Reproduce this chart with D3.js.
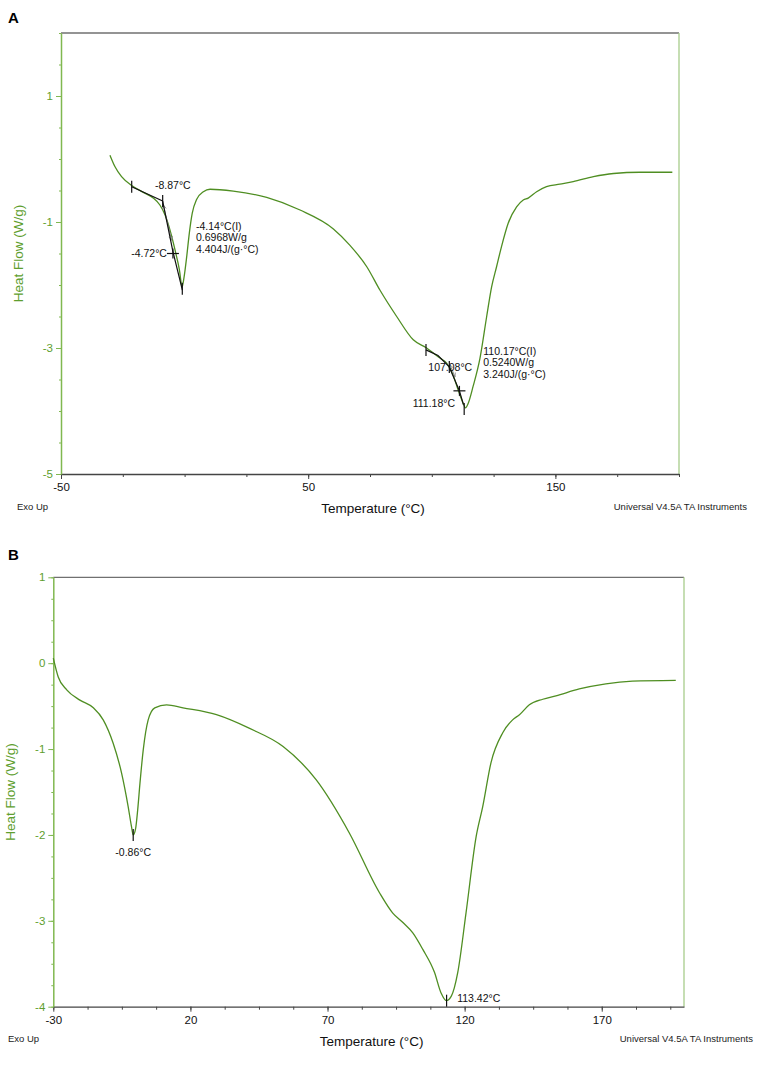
<!DOCTYPE html>
<html>
<head>
<meta charset="utf-8">
<script src="https://cdn.jsdelivr.net/npm/d3@7"></script>
<style>
body { margin: 0; background: #fff; }
svg text { font-family: Arial, "Liberation Sans", sans-serif; }
</style>
</head>
<body>
<svg id="chart" width="765" height="1088"></svg>
<script>
// Panel A - heat flow trace
var tempA = [-30.2, -28.2, -25.5, -21.4, -16.7, -12.7, -10, -7.9, -5.9, -3.9, -2.1, -1.0, -0.2, 0.85, 1.9, 3.1, 4.9, 7.6, 10.3,
    19.7, 33.2, 46.7, 60.2, 66.9, 73.7, 79.0, 85.8, 92.5, 97.9, 103.3, 106.0, 108.5, 110.7, 112.7, 113.6, 114.7, 116.7,
    119.5, 122.2, 124.2, 126.2, 128.2, 130.9, 134.3, 137.0, 139.0, 142.4, 146.4, 151.8, 157.2, 165.4, 173.5, 184.2, 197.3];
var flowA = [0.06, -0.12, -0.28, -0.42, -0.53, -0.62, -0.73, -0.89, -1.13, -1.44, -1.76, -2.03, -1.87, -1.55, -1.18, -0.86, -0.64, -0.52, -0.48,
    -0.51, -0.61, -0.81, -1.11, -1.37, -1.71, -2.08, -2.50, -2.87, -3.0, -3.16, -3.24, -3.42, -3.67, -3.88, -3.95, -3.88, -3.61,
    -3.16, -2.50, -2.03, -1.71, -1.39, -1.02, -0.76, -0.65, -0.62, -0.52, -0.44, -0.40, -0.36, -0.28, -0.23, -0.21, -0.21];
var xTicksA = [-50, 50, 150];
var yTicksA = [1, -1, -3, -5];

// analysis marks on panel A (onset / end tangents, inflection crosses)
var tangentsA = [
    [[-21.4, -0.44], [-8.87, -0.667]],
    [[-8.87, -0.667], [-4.72, -1.47], [-0.9, -2.08]],
    [[97.65, -3.03], [102.5, -3.12], [107.08, -3.30]],
    [[107.08, -3.30], [111.18, -3.68], [112.8, -3.90]]
];
var arrowsA = [[[-8.62, -0.73], [-5.22, -1.29]], [[107.4, -3.27], [109.4, -3.46]]];
var ticksA = [[-21.4, -0.44], [-8.87, -0.667], [-0.93, -2.06], [97.65, -3.03], [107.08, -3.30], [113.1, -3.97]];
var crossesA = [[-4.72, -1.50], [111.18, -3.68]];
var notesA = [["-8.87°C"], ["-4.72°C"], ["-4.14°C(I)", "0.6968W/g", "4.404J/(g·°C)"],
    ["107.08°C"], ["111.18°C"], ["110.17°C(I)", "0.5240W/g", "3.240J/(g·°C)"]];
var noteAtA = [[-8.87, -0.667], [-4.72, -1.50], [-4.14, -1.40], [107.08, -3.30], [111.18, -3.68], [110.17, -3.55]];

// Panel B
var tempB = [-30, -28.2, -25.1, -20.3, -15.4, -11.8, -8.2, -5.1, -2.7, -1.5, -0.86, 0.0, 0.8, 1.6, 2.8, 4.6, 7.0, 11.3, 17.3, 29.5,
    41.6, 53.8, 65.9, 78.0, 88.9, 93.8, 97.5, 101.1, 104.7, 109.0, 111.4, 113.3, 115.1, 117.5, 120.5, 124.2, 126.6, 129.6,
    133.9, 137.5, 140.0, 143.6, 148.5, 153.3, 161.8, 171.5, 181.2, 197.0];
var flowB = [0.06, -0.16, -0.31, -0.43, -0.52, -0.66, -0.93, -1.28, -1.67, -1.90, -2.0, -1.93, -1.70, -1.40, -1.01, -0.66, -0.52, -0.485, -0.52, -0.60,
    -0.76, -0.97, -1.36, -1.98, -2.67, -2.91, -3.02, -3.14, -3.33, -3.60, -3.84, -3.93, -3.88, -3.60, -2.91, -2.02, -1.67, -1.16,
    -0.81, -0.66, -0.60, -0.485, -0.42, -0.38, -0.30, -0.24, -0.21, -0.20];
var xTicksB = [-30, 20, 70, 120, 170];
var yTicksB = [1, 0, -1, -2, -3, -4];
var ticksB = [[-0.86, -2.0], [113.42, -3.93]];
var notesB = [["-0.86°C"], ["113.42°C"]];
var noteAtB = [[-0.86, -2.0], [113.42, -3.93]];

var svg = d3.select("#chart");

var GREEN = "#4f8e22";
var AXIS_GREEN = "#80b850";
var LABEL_GREEN = "#5e9e2e";

// plain hyphen minus like the instrument software prints
function plain(d) { return String(d); }

function drawPanel(p) {
    var g = svg.append("g");
    var x = d3.scaleLinear().domain(p.xDomain).range([p.left, p.right]);
    var y = d3.scaleLinear().domain(p.yDomain).range([p.bottom, p.top]);

    // frame: grey top, light green right
    g.append("line")
        .attr("x1", p.left).attr("x2", p.right)
        .attr("y1", p.top).attr("y2", p.top)
        .attr("stroke", "#707070").attr("stroke-width", 1.3);
    g.append("line")
        .attr("x1", p.right).attr("x2", p.right)
        .attr("y1", p.top).attr("y2", p.bottom)
        .attr("stroke", "#a8cd8b").attr("stroke-width", 1.3);

    // minor ticks first, then major ticks with labels
    var xMinor = g.append("g").attr("transform", "translate(0," + p.bottom + ")")
        .call(d3.axisBottom(x).tickValues(p.xMinor).tickSize(3).tickFormat(""));
    xMinor.select(".domain").remove();
    xMinor.selectAll("line").attr("stroke", "#444");

    var xAxis = g.append("g").attr("transform", "translate(0," + p.bottom + ")")
        .call(d3.axisBottom(x).tickValues(p.xTicks).tickSize(5).tickPadding(4).tickSizeOuter(0).tickFormat(plain));
    xAxis.select(".domain").attr("stroke", "#444").attr("stroke-width", 1.3);
    xAxis.selectAll("line").attr("stroke", "#444");
    xAxis.selectAll("text").attr("font-size", 11.5).attr("fill", "#111");

    var yMinor = g.append("g").attr("transform", "translate(" + p.left + ",0)")
        .call(d3.axisLeft(y).tickValues(p.yMinor).tickSize(2).tickFormat(""));
    yMinor.select(".domain").remove();
    yMinor.selectAll("line").attr("stroke", AXIS_GREEN);

    var yAxis = g.append("g").attr("transform", "translate(" + p.left + ",0)")
        .call(d3.axisLeft(y).tickValues(p.yTicks).tickSize(5).tickPadding(3).tickSizeOuter(0).tickFormat(plain));
    yAxis.select(".domain").attr("stroke", AXIS_GREEN).attr("stroke-width", 1.5);
    yAxis.selectAll("line").attr("stroke", AXIS_GREEN);
    yAxis.selectAll("text").attr("font-size", 11.5).attr("fill", LABEL_GREEN);

    // the trace
    var line = d3.line()
        .x(function(d) { return x(d[0]); })
        .y(function(d) { return y(d[1]); })
        .curve(d3.curveMonotoneX);
    g.append("path")
        .datum(d3.zip(p.temp, p.flow))
        .attr("d", line)
        .attr("fill", "none")
        .attr("stroke", GREEN)
        .attr("stroke-width", 1.3);

    // analysis marks
    var markLine = d3.line()
        .x(function(d) { return x(d[0]); })
        .y(function(d) { return y(d[1]); });
    (p.arrows || []).forEach(function(a) {
        g.append("path")
            .attr("d", markLine(a))
            .attr("stroke", "#8a8a8a").attr("stroke-width", 1)
            .attr("marker-start", "url(#arrow-start)")
            .attr("marker-end", "url(#arrow-end)");
    });
    (p.tangents || []).forEach(function(t) {
        g.append("path")
            .attr("d", markLine(t))
            .attr("fill", "none")
            .attr("stroke", "#111").attr("stroke-width", 1.2);
    });
    (p.ticks || []).forEach(function(t) {
        g.append("line")
            .attr("x1", x(t[0])).attr("x2", x(t[0]))
            .attr("y1", y(t[1]) - 6).attr("y2", y(t[1]) + 6)
            .attr("stroke", "#111").attr("stroke-width", 1.2);
    });
    (p.crosses || []).forEach(function(c) {
        g.append("line")
            .attr("x1", x(c[0]) - 6).attr("x2", x(c[0]) + 6)
            .attr("y1", y(c[1])).attr("y2", y(c[1]))
            .attr("stroke", "#111").attr("stroke-width", 1.2);
        g.append("line")
            .attr("x1", x(c[0])).attr("x2", x(c[0]))
            .attr("y1", y(c[1]) - 5).attr("y2", y(c[1]) + 5)
            .attr("stroke", "#111").attr("stroke-width", 1.2);
    });
    p.notes.forEach(function(lines, i) {
        var at = p.noteAt[i], lay = p.noteLayout[i];
        var t = g.append("text")
            .attr("x", x(at[0]) + lay[0])
            .attr("y", y(at[1]) + lay[1])
            .attr("text-anchor", lay[2])
            .attr("font-size", 10.5)
            .attr("fill", "#111");
        lines.forEach(function(s, k) {
            t.append("tspan")
                .attr("x", x(at[0]) + lay[0])
                .attr("dy", k == 0 ? "0.35em" : 11.8)
                .text(s);
        });
    });

    // titles
    svg.append("text")
        .attr("x", p.panelX).attr("y", p.panelY)
        .attr("font-size", 15).attr("font-weight", "bold")
        .text(p.panel);
    svg.append("text")
        .attr("transform", "translate(" + p.yTitleX + "," + (p.top + p.bottom) / 2 + ") rotate(-90)")
        .attr("text-anchor", "middle")
        .attr("dy", "0.35em")
        .attr("font-size", 13.5)
        .attr("fill", LABEL_GREEN)
        .text("Heat Flow (W/g)");
    svg.append("text")
        .attr("x", (p.left + p.right) / 2 + 3).attr("y", p.bottom + 39)
        .attr("text-anchor", "middle")
        .attr("font-size", 13.5)
        .attr("fill", "#111")
        .text("Temperature (°C)");
    svg.append("text")
        .attr("x", p.exoX).attr("y", p.bottom + 35.5)
        .attr("font-size", 9.5)
        .attr("fill", "#222")
        .text("Exo Up");
    svg.append("text")
        .attr("x", p.instX).attr("y", p.bottom + 35.5)
        .attr("text-anchor", "end")
        .attr("font-size", 9.5)
        .attr("fill", "#222")
        .text("Universal V4.5A TA Instruments");
}

// arrow heads for the grey double arrows
var defs = svg.append("defs");
defs.append("marker").attr("id", "arrow-end")
    .attr("viewBox", "0 0 10 10").attr("refX", 9).attr("refY", 5)
    .attr("markerWidth", 5).attr("markerHeight", 5).attr("orient", "auto")
    .append("path").attr("d", "M1,1 L9,5 L1,9").attr("fill", "none").attr("stroke", "#8a8a8a").attr("stroke-width", 1.5);
defs.append("marker").attr("id", "arrow-start")
    .attr("viewBox", "0 0 10 10").attr("refX", 1).attr("refY", 5)
    .attr("markerWidth", 5).attr("markerHeight", 5).attr("orient", "auto")
    .append("path").attr("d", "M9,1 L1,5 L9,9").attr("fill", "none").attr("stroke", "#8a8a8a").attr("stroke-width", 1.5);

drawPanel({
    panel: "A", panelX: 8, panelY: 23,
    left: 61, right: 679, top: 33, bottom: 474,
    xDomain: [-50, 200], yDomain: [-5, 2],
    xTicks: xTicksA, yTicks: yTicksA,
    xMinor: d3.range(-50, 201, 25), yMinor: d3.range(-5, 2.01, 0.5),
    temp: tempA, flow: flowA,
    tangents: tangentsA, arrows: arrowsA, ticks: ticksA, crosses: crossesA,
    notes: notesA, noteAt: noteAtA,
    noteLayout: [[-7.7, -15.3, "start"], [-6, 0, "end"], [21.6, -21.2, "start"],
        [-21, 0.8, "start"], [-4.4, 12, "end"], [26.3, -31.7, "start"]],
    yTitleX: 18, exoX: 17, instX: 747
});

drawPanel({
    panel: "B", panelX: 8, panelY: 560,
    left: 53.3, right: 684, top: 577.3, bottom: 1006.7,
    xDomain: [-30, 200], yDomain: [-4, 1],
    xTicks: xTicksB, yTicks: yTicksB,
    xMinor: d3.range(-30, 200, 12.5), yMinor: d3.range(-4, 1.01, 0.25),
    temp: tempB, flow: flowB,
    ticks: ticksB,
    notes: notesB, noteAt: noteAtB,
    noteLayout: [[0, 17, "middle"], [10.6, -2.6, "start"]],
    yTitleX: 10, exoX: 8, instX: 753
});
</script>
</body>
</html>
